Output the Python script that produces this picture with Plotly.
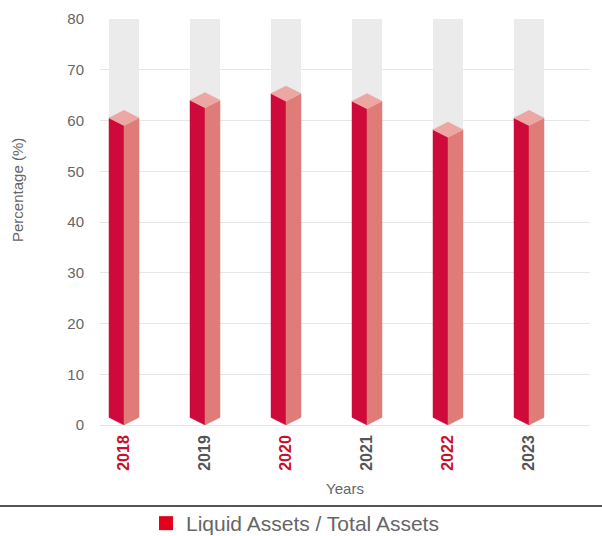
import plotly.graph_objects as go

years = ["2018", "2019", "2020", "2021", "2022", "2023"]
values = [60.5, 64.0, 65.3, 63.8, 58.2, 60.5]
label_colors = ["#c8102e", "#555555", "#c8102e", "#555555", "#c8102e", "#555555"]
series_name = "Liquid Assets / Total Assets"
y_title = "Percentage (%)"
x_title = "Years"
y_max = 80
y_ticks = [0, 10, 20, 30, 40, 50, 60, 70, 80]

FRONT = "#cd0a3a"
SIDE = "#e07c78"
TOP = "#eca7a2"
TRACK = "#ebebeb"
W = 0.185   # half width in category units
D = 1.5     # 3D depth in value units

fig = go.Figure()

# background tracks (from bar top to axis max)
fig.add_trace(go.Bar(x=list(range(len(years))), y=[y_max - v for v in values], base=values,
                     width=2 * W,
                     marker=dict(color=TRACK, line=dict(width=0)), showlegend=False,
                     hoverinfo="skip"))

for i, v in enumerate(values):
    x = i
    faces = [
        ([x - W, x, x, x - W, x - W], [D, 0, v - D, v, D], FRONT),
        ([x, x + W, x + W, x, x], [0, D, v, v - D, 0], SIDE),
        ([x - W, x, x + W, x, x - W], [v, v - D, v, v + D, v], TOP),
    ]
    for xs, ys, c in faces:
        fig.add_trace(go.Scatter(x=xs, y=ys, fill="toself", fillcolor=c, mode="lines",
                                 line=dict(width=0.5, color=c), showlegend=False,
                                 hoverinfo="skip"))

# legend entry
fig.add_trace(go.Scatter(x=[None], y=[None], mode="markers", name=series_name,
                         marker=dict(symbol="square", size=14, color="#e2001a")))

ticktext = [f'<b><span style="color:{c}">{y}</span></b>' for y, c in zip(years, label_colors)]

fig.update_layout(
    width=602, height=536,
    margin=dict(l=100, r=12, t=19, b=111, autoexpand=False),
    paper_bgcolor="white", plot_bgcolor="white",
    font=dict(family="Arial, Liberation Sans, sans-serif", color="#666666", size=15),
    barmode="overlay",
    xaxis=dict(
        range=[-24 / 81, 466 / 81],
        tickmode="array", tickvals=list(range(len(years))), ticktext=ticktext,
        tickangle=-90, tickfont=dict(size=16), ticklabelstandoff=6,
        showgrid=False, zeroline=False, showline=False, ticks="",
        title=dict(text=x_title, font=dict(size=15, color="#666666"), standoff=13),
        automargin=False,
    ),
    yaxis=dict(
        range=[0, y_max], tickvals=y_ticks,
        showgrid=True, gridcolor="#e6e6e6", gridwidth=1,
        zeroline=True, zerolinecolor="#e6e6e6", zerolinewidth=1,
        showline=False, ticks="", ticklabelstandoff=15,
        tickfont=dict(size=15, color="#666666"),
        automargin=False,
    ),
    annotations=[dict(text=y_title, textangle=-90, xref="paper", yref="paper",
                      x=(17 - 100) / 490, y=(425 - 190) / 406, xanchor="center",
                      yanchor="middle", showarrow=False,
                      font=dict(size=15, color="#666666"))],
    showlegend=True,
    legend=dict(orientation="h", xref="container", yref="container",
                x=146 / 602, xanchor="left", y=1 - 503 / 536, yanchor="top",
                font=dict(size=21, color="#666666"), bgcolor="rgba(0,0,0,0)"),
    shapes=[dict(type="line", xref="paper", yref="paper",
                 x0=-100 / 490, x1=502 / 490, y0=(425 - 506) / 406, y1=(425 - 506) / 406,
                 line=dict(color="#555555", width=2))],
)

fig.write_html("out.html", config={"displayModeBar": False},
               post_script="document.body.style.margin='0';")
